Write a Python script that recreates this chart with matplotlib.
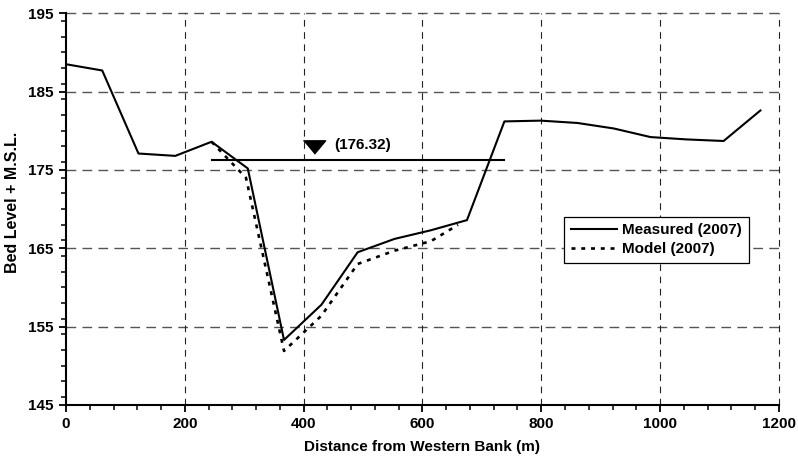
import matplotlib

matplotlib.use('Agg')
import matplotlib.pyplot as plt
from matplotlib.ticker import MultipleLocator

plt.rcParams['font.family'] = ['Liberation Sans', 'DejaVu Sans']
plt.rcParams['font.weight'] = 'bold'

# measured cross section 2007
meas_x = [0, 61, 122, 184, 245, 306, 367, 430, 491, 553, 614, 675,
          738, 799, 861, 922, 984, 1045, 1107, 1169]
meas_y = [188.5, 187.7, 177.1, 176.8, 178.6, 175.2, 153.3, 157.8, 164.5, 166.2,
          167.3, 168.6, 181.2, 181.3, 181.0, 180.3, 179.2, 178.9, 178.7, 182.6]

# model result 2007
model_x = [245, 303, 367, 430, 491, 553, 614, 660]
model_y = [178.6, 174.0, 151.9, 156.4, 163.0, 164.7, 165.9, 168.0]

# water level
wl_x = [245, 738]
wl_level = 176.32
wl_label = '(176.32)'

fig = plt.figure(figsize=(7.98, 4.62), dpi=100)
ax = fig.add_axes([0.0827, 0.1234, 0.8933, 0.8478])

ax.set_xlim(0, 1200)
ax.set_ylim(145, 195)
ax.xaxis.set_major_locator(MultipleLocator(200))
ax.xaxis.set_minor_locator(MultipleLocator(40))
ax.yaxis.set_minor_locator(MultipleLocator(2))
ax.set_yticks([145, 155, 165, 175, 185, 195])

# grid: horizontal grey, vertical dark
for yv in [155, 165, 175, 185, 195]:
    ax.axhline(yv, color='#555555', lw=1.0, ls=(0, (7, 4.5)), zorder=1, clip_on=False)
for xv in [200, 400, 600, 800, 1000, 1200]:
    ax.axvline(xv, color='#222222', lw=0.8, ls=(0, (6, 5)), zorder=1, clip_on=False)

ax.plot(meas_x, meas_y, color='black', lw=1.5, label='Measured (2007)', zorder=3)
ax.plot(model_x, model_y, color='black', lw=1.9, ls=(0, (1.5, 2.2)),
        label='Model (2007)', zorder=3)

ax.plot(wl_x, [wl_level, wl_level], color='black', lw=1.5, zorder=3)
ax.plot([418], [177.9], marker=[(-1, 0.6), (1, 0.6), (0, -0.6)], ms=16,
        color='black', ls='none', zorder=4)
ax.text(452, 178.2, wl_label, fontsize=11, fontweight='bold', va='center', ha='left')

for s in ['top', 'right']:
    ax.spines[s].set_visible(False)
for s in ['left', 'bottom']:
    ax.spines[s].set_linewidth(1.5)

ax.tick_params(which='major', direction='out', length=5, width=1.3, labelsize=11, pad=4)
ax.tick_params(which='minor', direction='out', length=3.5, width=1.1)
for lab in ax.get_xticklabels() + ax.get_yticklabels():
    lab.set_fontweight('bold')

ax.set_xlabel('Distance from Western Bank (m)', fontsize=11, fontweight='bold', labelpad=6)
ax.set_ylabel('Bed Level + M.S.L.', fontsize=11.5, fontweight='bold')
ax.yaxis.set_label_coords(-0.065, 0.518)

leg = ax.legend(loc='upper left', bbox_to_anchor=(0.699, 0.481), fontsize=11,
                frameon=True, fancybox=False, edgecolor='black', framealpha=1,
                handlelength=3.0, handletextpad=0.35, borderpad=0.45, labelspacing=0.3,
                borderaxespad=0)
leg.get_frame().set_linewidth(0.9)
for t in leg.get_texts():
    t.set_fontweight('bold')

fig.savefig('out.png', dpi=100)
